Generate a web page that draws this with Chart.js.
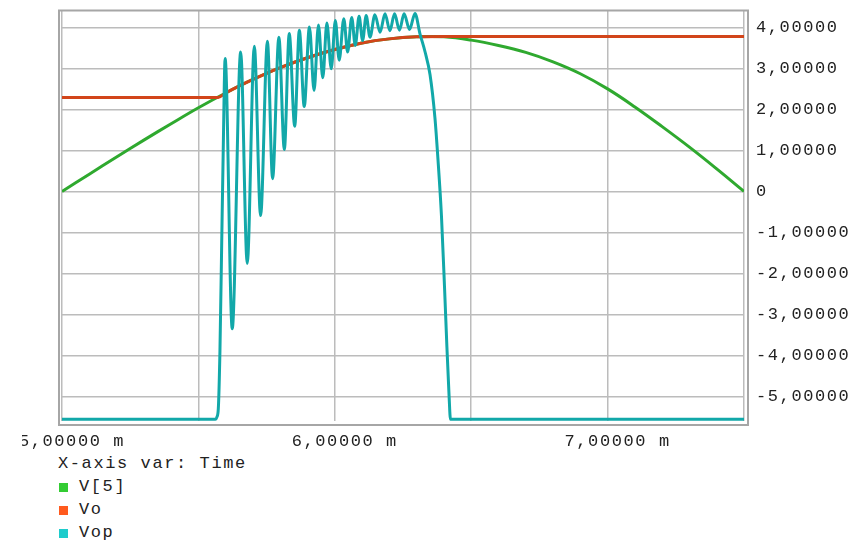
<!DOCTYPE html>
<html>
<head>
<meta charset="utf-8">
<script src="https://cdn.jsdelivr.net/npm/chart.js@4"></script>
<style>
  body { margin: 0; background: #fff; width: 867px; height: 541px; overflow: hidden; position: relative; }
  #wrap { position: absolute; left: 22px; top: 0; width: 845px; height: 452px; }
  #legend { position: absolute; left: 58px; top: 452px; font: 17px "Liberation Mono", "DejaVu Sans Mono", monospace; letter-spacing: 1.6px; color: #222; }
  #legend div { height: 23px; line-height: 23px; white-space: pre; }
  #legend span.box { display: inline-block; width: 9px; height: 9px; margin: 0 11px 0 1px; vertical-align: -1px; }
</style>
</head>
<body>
<div id="wrap"><canvas id="chart"></canvas></div>
<div id="legend"></div>
<script>
// time in ms
const seriesNames = ["V[5]", "Vo", "Vop"];
const lineColors = ["#2fa92f", "#d2451a", "#12a8a9"];
const boxColors = ["#33cc33", "#ff5a1e", "#1ecccc"];

const v5Time = [5.0, 5.1, 5.2, 5.3, 5.4, 5.5, 5.6, 5.7, 5.8, 5.9, 6.0, 6.1, 6.2, 6.3, 6.4,
  6.5, 6.6, 6.7, 6.8, 6.9, 7.0, 7.1, 7.2, 7.3, 7.4, 7.5];
const v5Values = [0, 0.42, 0.84, 1.25, 1.65, 2.04, 2.40, 2.73, 3.02, 3.26, 3.46, 3.62, 3.72, 3.77, 3.77,
  3.69, 3.56, 3.39, 3.16, 2.87, 2.50, 2.06, 1.58, 1.08, 0.55, 0];

const voTime = [5.0, 5.572, 5.6, 5.7, 5.8, 5.9, 6.0, 6.1, 6.2, 6.3, 6.4, 7.5];
const voValues = [2.29, 2.29, 2.40, 2.73, 3.02, 3.26, 3.46, 3.62, 3.72, 3.77, 3.78, 3.78];

const vopTime = [5.0, 5.562, 5.568, 5.573, 5.579, 5.585, 5.591, 5.598,
  5.624, 5.655, 5.679, 5.705, 5.728, 5.753, 5.772, 5.795, 5.815, 5.833, 5.853, 5.870,
  5.888, 5.907, 5.924, 5.940, 5.956, 5.971, 5.987, 6.002, 6.016, 6.033, 6.047, 6.062,
  6.075, 6.089, 6.102, 6.115, 6.129, 6.147, 6.166, 6.184, 6.202, 6.219, 6.237, 6.254,
  6.274, 6.294, 6.312, 6.331, 6.349, 6.367, 6.378, 6.391, 6.402, 6.411, 6.419, 6.424, 7.5];
const vopValues = [-5.56, -5.56, -5.5, -5.3, -3.88, -1.44, 1.0, 3.24,
  -3.35, 3.40, -1.76, 3.54, -0.59, 3.66, 0.31, 3.76, 1.02, 3.85, 1.59, 3.93,
  2.07, 4.01, 2.46, 4.06, 2.77, 4.11, 2.99, 4.17, 3.20, 4.21, 3.40, 4.24,
  3.56, 4.27, 3.68, 4.29, 3.76, 4.31, 3.88, 4.33, 3.92, 4.33, 3.93, 4.33,
  3.95, 4.34, 3.85, 3.40, 2.85, 1.8, 0.8, -0.6, -2.3, -3.8, -5.0, -5.56, -5.56];

const yTicks = [-5, -4, -3, -2, -1, 0, 1, 2, 3, 4];
const xLabelTicks = [5, 6, 7];

const pts = (xs, ys) => xs.map((x, i) => ({ x: x, y: ys[i] }));
const monoFont = { family: "'Liberation Mono', 'DejaVu Sans Mono', monospace", size: 17 };

const spacing = {
  id: "spacing",
  beforeLayout(chart) { chart.ctx.letterSpacing = "1.6px"; },
  beforeDraw(chart) { chart.ctx.letterSpacing = "1.6px"; }
};

const frame = {
  id: "frame",
  afterDraw(chart) {
    const a = chart.chartArea, ctx = chart.ctx;
    ctx.save();
    ctx.strokeStyle = "#a6a6a6";
    ctx.lineWidth = 2;
    ctx.strokeRect(a.left - 3, a.top - 0.5, a.right - a.left + 7, a.bottom - a.top + 4.5);
    ctx.restore();
  }
};

const ctx = document.getElementById("chart").getContext("2d");

new Chart(ctx, {
  type: "line",
  data: {
    datasets: [
      { label: seriesNames[0], data: pts(v5Time, v5Values), borderColor: lineColors[0], order: 3, tension: 0.4, cubicInterpolationMode: "default" },
      { label: seriesNames[1], data: pts(voTime, voValues), borderColor: lineColors[1], order: 2 },
      { label: seriesNames[2], data: pts(vopTime, vopValues), borderColor: lineColors[2], order: 1 }
    ]
  },
  options: {
    responsive: true,
    maintainAspectRatio: false,
    animation: false,
    layout: { padding: { left: 40, top: 11, right: 0, bottom: 0 } },
    elements: {
      point: { radius: 0 },
      line: { borderWidth: 3, cubicInterpolationMode: "monotone" }
    },
    plugins: { legend: { display: false }, tooltip: { enabled: false } },
    scales: {
      x: {
        type: "linear",
        min: 5,
        max: 7.5,
        grid: { color: "#bcbcbc", lineWidth: 1.5, drawTicks: false },
        border: { display: false },
        ticks: {
          stepSize: 0.5,
          includeBounds: false,
          maxRotation: 0,
          autoSkip: false,
          padding: 10,
          labelOffset: 10,
          color: "#222",
          font: monoFont,
          callback: v => xLabelTicks.includes(v) ? v.toFixed(5).replace(".", ",") + " m" : ""
        },
        afterFit(scale) { scale.height = 31; scale.paddingLeft = 0; scale.paddingRight = 0; }
      },
      y: {
        position: "right",
        min: -5.6,
        max: 4.4,
        grid: { color: "#bcbcbc", lineWidth: 1.5, drawTicks: false },
        border: { display: false },
        afterBuildTicks(scale) { scale.ticks = yTicks.map(v => ({ value: v })); },
        ticks: {
          padding: 12,
          color: "#222",
          font: monoFont,
          callback: v => v === 0 ? "0" : v.toFixed(5).replace(".", ",")
        },
        afterFit(scale) { scale.width = 123; scale.paddingTop = 0; scale.paddingBottom = 0; }
      }
    }
  },
  plugins: [spacing, frame]
});

const legend = document.getElementById("legend");
const title = document.createElement("div");
title.textContent = "X-axis var: Time";
legend.appendChild(title);
seriesNames.forEach((name, i) => {
  const row = document.createElement("div");
  const box = document.createElement("span");
  box.className = "box";
  box.style.background = boxColors[i];
  row.appendChild(box);
  row.appendChild(document.createTextNode(name));
  legend.appendChild(row);
});
</script>
</body>
</html>
